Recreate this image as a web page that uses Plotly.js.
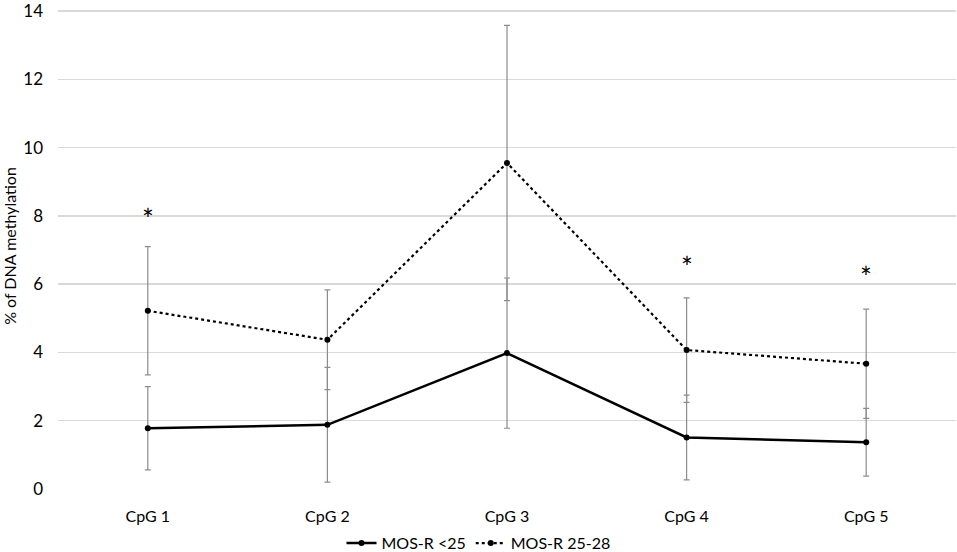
<!DOCTYPE html>
<html><head><meta charset="utf-8">
<script src="https://cdn.plot.ly/plotly-3.0.1.min.js"></script>
<style>html,body{margin:0;padding:0;background:#fff}#chart{width:957px;height:552px}</style>
</head><body><div id="chart"></div>
<script>
const categories = ["CpG 1", "CpG 2", "CpG 3", "CpG 4", "CpG 5"];
const lowValues = [1.78, 1.88, 3.98, 1.51, 1.37];
const lowErrors = [1.22, 1.68, 2.20, 1.24, 0.99];
const midValues = [5.22, 4.37, 9.55, 4.07, 3.67];
const midErrors = [1.88, 1.46, 4.03, 1.53, 1.60];
const starCats = ["CpG 1", "CpG 4", "CpG 5"];
const starY = [7.9, 6.5, 6.2];
const yTicks = [0, 2, 4, 6, 8, 10, 12, 14];

const font = "Lato, 'Open Sans', sans-serif";
const traces = [
  {
    x: categories, y: lowValues, name: "MOS-R <25", type: "scatter", mode: "lines+markers",
    line: {color: "#000", width: 2.5},
    marker: {color: "#000", size: 6},
    error_y: {type: "data", array: lowErrors, visible: true, color: "#8c8c8c", thickness: 1.2, width: 3}
  },
  {
    x: categories, y: midValues, name: "MOS-R 25-28", type: "scatter", mode: "lines+markers",
    line: {color: "#000", width: 2.2, dash: "dot"},
    marker: {color: "#000", size: 6},
    error_y: {type: "data", array: midErrors, visible: true, color: "#8c8c8c", thickness: 1.2, width: 3}
  }
];
const annotations = starCats.map((c, i) => ({
  x: c, y: starY[i], xref: "x", yref: "y", text: "*", showarrow: false,
  font: {family: font, size: 28, color: "#000"}
}));
const layout = {
  width: 957, height: 552,
  margin: {l: 58, r: 1, t: 3, b: 63},
  paper_bgcolor: "#fff", plot_bgcolor: "#fff",
  font: {family: font, size: 16, color: "#000"},
  showlegend: true,
  legend: {orientation: "h", xref: "container", x: 0.5, xanchor: "center", yref: "container", y: 0.016, yanchor: "middle", font: {size: 16}, itemwidth: 30},
  xaxis: {
    type: "category", range: [-0.5, 4.5], showgrid: false, zeroline: false, showline: false,
    ticks: "", ticklabelstandoff: 16, tickfont: {size: 16}, automargin: false
  },
  yaxis: {
    range: [0, 14.235], tickvals: yTicks, showgrid: true, gridcolor: "#d9d9d9", gridwidth: 1.3,
    zeroline: false, showline: false, ticks: "", ticklabelstandoff: 14, tickfont: {size: 17}, automargin: false,
    ticklabeloverflow: "allow",
    title: {text: "% of DNA methylation", font: {size: 16}, standoff: 6}
  },
  annotations: annotations
};
Plotly.newPlot("chart", traces, layout, {displayModeBar: false, staticPlot: true});
</script></body></html>
